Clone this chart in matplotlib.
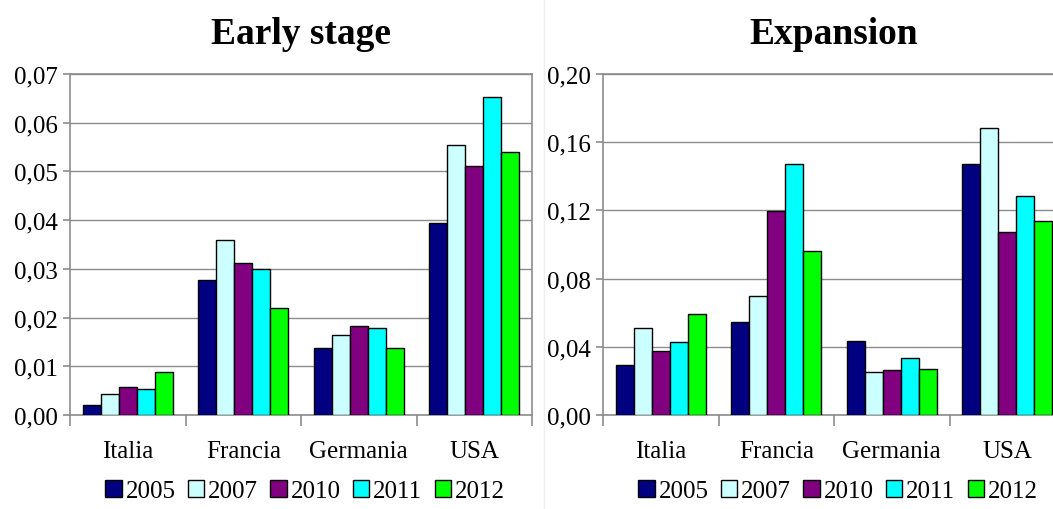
import numpy as np
import matplotlib.pyplot as plt
from matplotlib.ticker import FuncFormatter, FixedLocator

plt.rcParams['font.family'] = ['Liberation Serif', 'DejaVu Serif']

paesi = ['Italia', 'Francia', 'Germania', 'USA']
anni = ['2005', '2007', '2010', '2011', '2012']
colori = ['#000080', '#CCFFFF', '#800080', '#00FFFF', '#00FF00']

# early stage, one list per year (Italia, Francia, Germania, USA)
early_2005 = [0.0021, 0.0277, 0.0138, 0.0394]
early_2007 = [0.0043, 0.0359, 0.0164, 0.0555]
early_2010 = [0.0058, 0.0313, 0.0183, 0.0512]
early_2011 = [0.0053, 0.0300, 0.0178, 0.0652]
early_2012 = [0.0088, 0.0219, 0.0138, 0.0540]

# expansion
exp_2005 = [0.0293, 0.0547, 0.0434, 0.1474]
exp_2007 = [0.0510, 0.0696, 0.0254, 0.1685]
exp_2010 = [0.0377, 0.1198, 0.0262, 0.1075]
exp_2011 = [0.0430, 0.1474, 0.0334, 0.1286]
exp_2012 = [0.0594, 0.0962, 0.0270, 0.1136]

early = [early_2005, early_2007, early_2010, early_2011, early_2012]
expansion = [exp_2005, exp_2007, exp_2010, exp_2011, exp_2012]

W, H = 1053, 510
fig = plt.figure(figsize=(W / 100, H / 100), dpi=100)

# faint separator between the two charts
fig.add_artist(plt.Line2D([544 / W, 544 / W], [0, 1], color='#eeeeee', lw=1))


def pannello(rect, serie, titolo, ymax, passo, leg_x):
    ax = fig.add_axes(rect)
    x = np.arange(len(paesi))
    w = 0.155
    handles = []
    for i, vals in enumerate(serie):
        b = ax.bar(x + (i - 2) * w, vals, w, color=colori[i],
                   edgecolor='black', linewidth=1, zorder=3, label=anni[i])
        handles.append(b)
    ax.set_xlim(-0.5, len(paesi) - 0.5)
    ax.set_ylim(0, ymax)
    ticks = np.arange(0, ymax + passo / 2, passo)
    ax.set_yticks(ticks)
    ax.yaxis.set_major_formatter(FuncFormatter(lambda v, p: ('%.2f' % v).replace('.', ',')))
    ax.yaxis.grid(True, color='#8c8c8c', lw=1, zorder=0)
    for s in ax.spines.values():
        s.set_color('#8c8c8c')
        s.set_linewidth(1.2)
    ax.set_xticks(x)
    ax.set_xticklabels(paesi)
    ax.tick_params(axis='x', which='major', length=0, pad=18, labelsize=18)
    ax.xaxis.set_minor_locator(FixedLocator(np.arange(-0.5, len(paesi), 1)))
    ax.tick_params(axis='x', which='minor', length=8, color='#8c8c8c', width=1.2)
    ax.tick_params(axis='y', length=5, color='#8c8c8c', width=1.2, labelsize=18, pad=4)
    ax.set_title(titolo, fontsize=27, fontweight='bold', pad=22)
    ax.legend(handles=handles, loc='center', bbox_to_anchor=(leg_x / W, 18 / H),
              bbox_transform=fig.transFigure,
              ncol=5, frameon=False, fontsize=18, handlelength=0.65,
              handleheight=0.65, handletextpad=0.15, columnspacing=0.5,
              borderaxespad=0, borderpad=0)
    return ax


pannello([70 / W, 94 / H, 462 / W, 341 / H], early, 'Early stage', 0.07, 0.01, 305)
pannello([603 / W, 94 / H, 462 / W, 341 / H], expansion, 'Expansion', 0.20, 0.04, 838)

plt.savefig('out.png', dpi=100)
